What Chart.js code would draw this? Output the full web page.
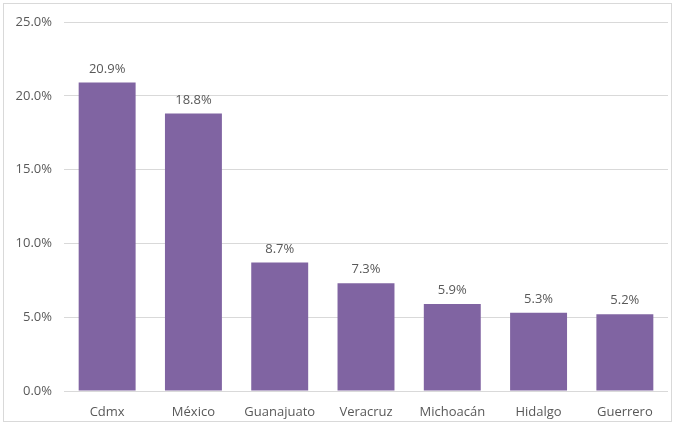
<!DOCTYPE html>
<html><head><meta charset="utf-8">
<script src="https://cdn.jsdelivr.net/npm/chart.js@4/dist/chart.umd.min.js"></script>
<style>html,body{margin:0;padding:0;background:#fff;}#wrap{width:675px;height:425px;position:relative;}</style>
</head><body><div id="wrap"><canvas id="c" width="675" height="425"></canvas></div>
<script>
const categories = ["Cdmx","México","Guanajuato","Veracruz","Michoacán","Hidalgo","Guerrero"];
const values = [20.9, 18.8, 8.7, 7.3, 5.9, 5.3, 5.2];
const yTicks = [0, 5, 10, 15, 20, 25];
const FONT = "'Open Sans', 'Noto Sans', sans-serif";
const TEXT = "#595959";

const borderPlugin = {
  id: 'outerBorder',
  afterDraw(chart) {
    const ctx = chart.ctx;
    ctx.save();
    ctx.strokeStyle = '#d9d9d9';
    ctx.lineWidth = 1;
    ctx.strokeRect(3.5, 3.5, 668, 418);
    ctx.restore();
  }
};
const labelPlugin = {
  id: 'valueLabels',
  afterDatasetsDraw(chart) {
    const ctx = chart.ctx;
    const meta = chart.getDatasetMeta(0);
    ctx.save();
    ctx.fillStyle = TEXT;
    ctx.font = "13px " + FONT;
    ctx.textAlign = 'center';
    ctx.textBaseline = 'bottom';
    meta.data.forEach((bar, i) => {
      ctx.fillText(values[i].toFixed(1) + '%', bar.x, bar.y - 7);
    });
    ctx.restore();
  }
};

new Chart(document.getElementById('c'), {
  type: 'bar',
  data: {
    labels: categories,
    datasets: [{
      data: values,
      backgroundColor: '#8064A2',
      categoryPercentage: 0.66,
      barPercentage: 1.0
    }]
  },
  options: {
    responsive: false,
    animation: false,
    layout: { padding: { top: 22, right: 7, bottom: 0, left: 0 } },
    plugins: { legend: { display: false }, tooltip: { enabled: false } },
    scales: {
      x: {
        afterFit(s) { s.height = 34; },
        grid: { display: false },
        border: { display: false },
        ticks: { color: TEXT, font: { family: FONT, size: 13 }, padding: 5, maxRotation: 0 }
      },
      y: {
        min: 0, max: 25,
        afterFit(s) { s.width = 64; },
        afterBuildTicks(s) { s.ticks = yTicks.map(v => ({ value: v })); },
        grid: { color: '#d9d9d9', drawTicks: false },
        border: { display: false },
        ticks: { color: TEXT, font: { family: FONT, size: 13 }, padding: 12,
                 callback: v => v.toFixed(1) + '%' }
      }
    }
  },
  plugins: [borderPlugin, labelPlugin]
});
</script></body></html>
